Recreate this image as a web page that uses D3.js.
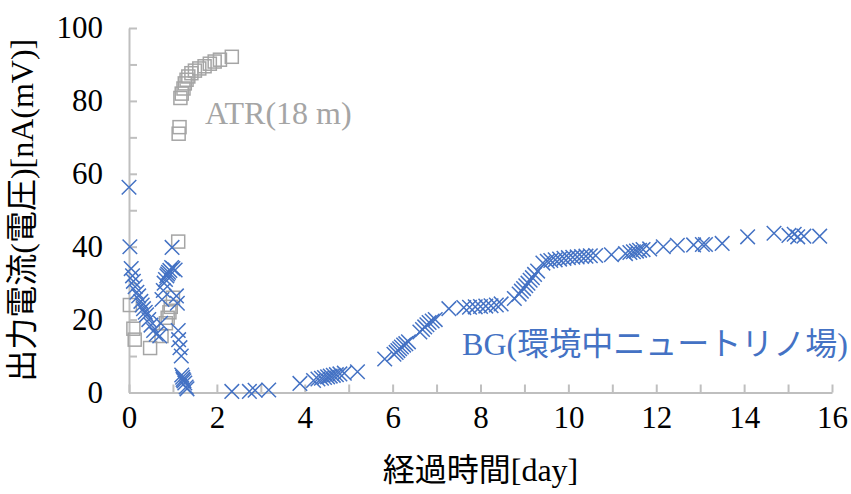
<!DOCTYPE html>
<html>
<head>
<meta charset="utf-8">
<script src="https://cdn.jsdelivr.net/npm/d3@7"></script>
<style>
  body { margin: 0; background: #fff; }
  svg text { font-family: "Liberation Serif", "Noto Sans CJK JP", serif; }
</style>
</head>
<body>
<div id="chart"></div>
<script>
// ATR(18 m) series - day, output
var atrData = [
  [0.02, 24], [0.1, 17.5], [0.13, 14.5], [0.48, 12.2], [0.74, 15.5], [0.84, 19],
  [0.88, 20.5], [0.92, 22], [0.95, 23.5], [1.0, 26], [1.12, 41.4], [1.13, 71],
  [1.15, 72.8], [1.17, 80.8], [1.2, 82], [1.24, 83.4], [1.27, 84.8], [1.31, 85.8],
  [1.35, 86.7], [1.42, 87.6], [1.5, 88.3], [1.6, 88.9], [1.72, 89.5], [1.84, 90.2],
  [1.95, 90.8], [2.07, 91.3], [2.34, 92.1]
];

// BG series
var bgData = [
  [0.0, 56.3], [0.02, 40], [0.05, 34], [0.08, 32], [0.1, 30.5], [0.14, 29], [0.18, 27.5],
  [0.22, 26.5], [0.27, 25], [0.3, 24], [0.33, 23], [0.37, 22], [0.4, 21.3], [0.45, 20],
  [0.5, 18.5], [0.56, 17], [0.62, 16],
  [0.7, 15.5], [0.72, 19], [0.75, 25.5], [0.78, 28], [0.8, 30], [0.83, 31], [0.86, 32],
  [0.88, 32.5], [0.9, 33], [0.93, 33.5], [0.97, 34.3], [1.0, 34], [1.05, 33.6], [0.98, 39.8],
  [1.08, 26.5], [1.1, 24.5],
  [1.12, 17], [1.13, 14.5], [1.16, 12.3], [1.19, 10], [1.2, 4.8], [1.22, 4.2], [1.23, 3.6],
  [1.25, 3.2], [1.27, 2.6], [1.3, 1.5], [1.32, 1],
  [2.34, 0.3], [2.74, 0.3], [2.87, 0.6], [3.18, 0.7],
  [3.89, 2.5], [4.2, 3.3], [4.3, 3.7], [4.38, 3.9], [4.45, 4.1], [4.52, 4.3], [4.58, 4.5],
  [4.65, 4.7], [4.72, 4.9], [4.8, 5.1], [4.9, 5.3], [5.2, 5.7],
  [5.82, 9.2], [6.03, 10.5], [6.08, 11], [6.12, 11.5], [6.16, 12], [6.2, 12.5], [6.25, 13],
  [6.3, 13.4], [6.36, 13.9], [6.62, 16.6], [6.68, 17.3], [6.73, 18], [6.78, 18.6],
  [6.83, 19.2], [6.9, 19.6], [6.97, 20],
  [7.28, 23], [7.62, 23.3], [7.75, 23.4], [7.88, 23.5], [8.0, 23.6], [8.12, 23.7],
  [8.24, 23.8], [8.36, 24], [8.47, 24.3],
  [8.77, 25.8], [8.88, 27], [8.93, 27.8], [8.98, 28.5], [9.03, 29.3], [9.08, 30],
  [9.13, 30.8], [9.18, 31.5], [9.23, 32.4], [9.3, 33.3],
  [9.42, 35.5], [9.52, 36], [9.6, 36.2], [9.7, 36.4], [9.8, 36.6], [9.9, 36.8], [10.0, 37],
  [10.1, 37.1], [10.2, 37.2], [10.3, 37.3], [10.4, 37.4], [10.5, 37.5], [10.62, 37.6],
  [10.98, 37.8], [11.3, 38.1], [11.4, 38.4], [11.48, 38.6], [11.55, 38.8], [11.62, 39],
  [11.7, 39.2], [11.85, 39.4],
  [12.16, 40], [12.48, 40.4], [12.85, 40.5], [13.05, 40.6], [13.12, 40.6], [13.5, 40.9],
  [14.08, 42.7], [14.68, 43.7], [15.02, 43.1], [15.14, 43.4], [15.22, 42.7], [15.36, 42.9],
  [15.72, 42.9]
];

var xTicks = [0, 2, 4, 6, 8, 10, 12, 14, 16];
var yTicks = [0, 20, 40, 60, 80, 100];
var xTitle = "経過時間[day]";
var yTitle = "出力電流(電圧)[nA(mV)]";
var atrLabel = "ATR(18 m)";
var bgLabel = "BG(環境中ニュートリノ場)";

var totalW = 851, totalH = 494;
var margin = {top: 28, right: 19, bottom: 101.5, left: 129};
var width = totalW - margin.left - margin.right;
var height = totalH - margin.top - margin.bottom;

var blue = "#4472c4", gray = "#a5a5a5", axisCol = "#bfbfbf";

var svg = d3.select("#chart").append("svg")
  .attr("width", totalW)
  .attr("height", totalH);

var canvas = svg.append("g")
  .attr("transform", "translate(" + margin.left + "," + margin.top + ")");

var xScale = d3.scaleLinear().domain([0, 16]).range([0, width]);
var yScale = d3.scaleLinear().domain([0, 100]).range([height, 0]);

// inward tick marks
var xTickAxis = d3.axisBottom(xScale).tickValues(d3.range(0, 17, 1))
  .tickSizeInner(-8).tickSizeOuter(0).tickFormat("");
var yTickAxis = d3.axisLeft(yScale).tickValues(d3.range(0, 101, 10))
  .tickSizeInner(-8).tickSizeOuter(0).tickFormat("");

var gx = canvas.append("g").attr("transform", "translate(0," + height + ")").call(xTickAxis);
var gy = canvas.append("g").call(yTickAxis);
[gx, gy].forEach(function(g) {
  g.selectAll("path, line").attr("stroke", axisCol).attr("stroke-width", 2);
});

// tick labels
var xLab = canvas.append("g").attr("transform", "translate(0," + height + ")")
  .call(d3.axisBottom(xScale).tickValues(xTicks).tickSize(0).tickPadding(13).tickFormat(d3.format("d")));
var yLab = canvas.append("g")
  .call(d3.axisLeft(yScale).tickValues(yTicks).tickSize(0).tickPadding(26).tickFormat(d3.format("d")));
[xLab, yLab].forEach(function(g) {
  g.select(".domain").remove();
  g.selectAll("text").attr("font-size", 31).attr("fill", "#000")
    .attr("font-family", "Liberation Serif, serif");
});

// series
var cross = d3.symbol().type(d3.symbolX).size(140);
canvas.append("g").selectAll("rect.atr")
  .data(atrData).enter().append("rect")
  .attr("class", "atr")
  .attr("x", function(d) { return xScale(d[0]) - 6.5; })
  .attr("y", function(d) { return yScale(d[1]) - 6.5; })
  .attr("width", 13).attr("height", 13)
  .attr("fill", "none").attr("stroke", gray).attr("stroke-width", 1.5);

canvas.append("g").selectAll("path.bg")
  .data(bgData).enter().append("path")
  .attr("class", "bg")
  .attr("transform", function(d) { return "translate(" + xScale(d[0]) + "," + yScale(d[1]) + ")"; })
  .attr("d", cross)
  .attr("fill", "none").attr("stroke", blue).attr("stroke-width", 1.5);

// series labels
canvas.append("text")
  .attr("x", xScale(1.73))
  .attr("y", yScale(73.6))
  .attr("font-size", 32).attr("fill", gray)
  .text(atrLabel);

canvas.append("text")
  .attr("x", xScale(7.58))
  .attr("y", yScale(10.3))
  .attr("font-size", 32).attr("fill", blue)
  .text(bgLabel);

// axis titles
svg.append("text")
  .attr("x", margin.left + width / 2)
  .attr("y", 481)
  .attr("text-anchor", "middle")
  .attr("font-size", 32).attr("fill", "#000")
  .text(xTitle);

svg.append("text")
  .attr("transform", "translate(33," + (margin.top + height / 2) + ") rotate(-90)")
  .attr("text-anchor", "middle")
  .attr("font-size", 32).attr("fill", "#000")
  .text(yTitle);
</script>
</body>
</html>
